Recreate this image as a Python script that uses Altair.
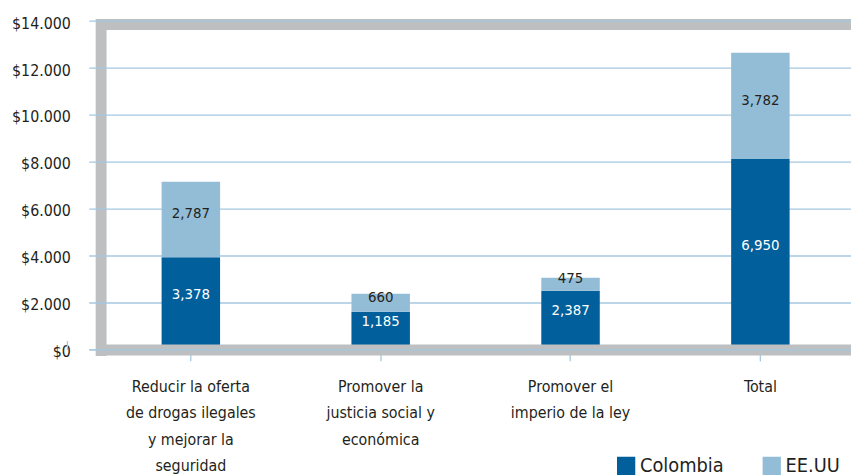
import altair as alt
import pandas as pd

# ---- data ----
categories = [
    "Reducir la oferta|de drogas ilegales|y mejorar la|seguridad",
    "Promover la|justicia social y|económica",
    "Promover el|imperio de la ley",
    "Total",
]
series = ["Colombia", "EE.UU"]
# bar heights as drawn against the axis
colombia_bar = [3950, 1630, 2520, 8130]
eeuu_bar = [3210, 760, 550, 4520]
# printed data labels
colombia_label = ["3,378", "1,185", "2,387", "6,950"]
eeuu_label = ["2,787", "660", "475", "3,782"]
y_ticks = [0, 2000, 4000, 6000, 8000, 10000, 12000, 14000]

# ---- styling ----
C_COL = "#01609c"
C_USA = "#93bdd7"
C_GRID = "#a3c8e0"
C_FRAME = "#bdbfc1"
C_TEXT = "#231f20"
FONT = "DejaVu Sans Condensed, Roboto, sans-serif"
W, H = 762, 332

rows = []
for i, c in enumerate(categories):
    base = 0
    for s, vals, labs in ((series[0], colombia_bar, colombia_label), (series[1], eeuu_bar, eeuu_label)):
        v = vals[i]
        rows.append({"cat": c, "series": s, "start": base, "end": base + v,
                     "mid": base + v / 2, "label": labs[i]})
        base += v
df = pd.DataFrame(rows)
grid_df = pd.DataFrame({"v": y_ticks})
one = alt.Data(values=[{}])

yscale = alt.Scale(domain=[0, 14000], nice=False, zero=True)
yaxis = alt.Axis(values=y_ticks, grid=False, domain=False, ticks=False, tickSize=0,
                 labelPadding=26, labelFontSize=16, labelColor=C_TEXT, labelOffset=2,
                 labelExpr="'$' + (datum.value == 0 ? '0' : (datum.value/1000) + '.000')",
                 title=None)
xscale = alt.Scale(domain=categories, paddingInner=0.692, paddingOuter=0.334, align=0.516)
xaxis = alt.Axis(labelExpr="split(datum.label, '|')", labelAngle=0, domain=False,
                 ticks=True, tickColor=C_GRID, tickSize=11, tickWidth=1.3,
                 labelPadding=18, labelLineHeight=26.5, labelFontSize=16,
                 labelColor=C_TEXT, labelBaseline="top", title=None, grid=False)

X = alt.X("cat:N", scale=xscale, axis=xaxis, sort=categories)

frame_left = alt.Chart(one).mark_rule(color=C_FRAME, strokeWidth=11).encode(
    x=alt.value(5), y=alt.value(-2), y2=alt.value(H + 6))
frame_top = alt.Chart(one).mark_rule(color=C_FRAME, strokeWidth=11).encode(
    x=alt.value(0), x2=alt.value(W), y=alt.value(3.5))

grid = alt.Chart(grid_df).mark_rule(color=C_GRID, strokeWidth=1.3).encode(
    y=alt.Y("v:Q", scale=yscale, axis=yaxis), x=alt.value(-7), x2=alt.value(W))

bars = alt.Chart(df).mark_bar().encode(
    x=X,
    y=alt.Y("start:Q", scale=yscale, axis=yaxis),
    y2="end:Q",
    color=alt.Color("series:N", scale=alt.Scale(domain=series, range=[C_COL, C_USA]),
                    legend=alt.Legend(orient="none", legendX=525, legendY=439,
                                      direction="horizontal", title=None,
                                      symbolType="square", symbolSize=340,
                                      symbolStrokeWidth=0, labelFontSize=20,
                                      labelOffset=4, columnPadding=38,
                                      labelColor=C_TEXT, padding=0)),
)

frame_bottom = alt.Chart(one).mark_rule(color=C_FRAME, strokeWidth=11).encode(
    x=alt.value(0), x2=alt.value(W), y=alt.value(H))
zero_line = alt.Chart(grid_df).transform_filter("datum.v == 0").mark_rule(
    color=C_GRID, strokeWidth=1.3).encode(
    y=alt.Y("v:Q", scale=yscale, axis=yaxis), x=alt.value(-7), x2=alt.value(W))
small_tick = alt.Chart(one).mark_rule(color=C_GRID, strokeWidth=1.3).encode(
    x=alt.value(-29), y=alt.value(H - 9), y2=alt.value(H))

lab_col = alt.Chart(df).transform_filter(alt.datum.series == "Colombia").mark_text(
    color="white", fontSize=15, dy=-10).encode(
    x=X, y=alt.Y("mid:Q", scale=yscale, axis=yaxis), text="label:N")
lab_usa = alt.Chart(df).transform_filter(alt.datum.series == "EE.UU").mark_text(
    color=C_TEXT, fontSize=15, dy=-6).encode(
    x=X, y=alt.Y("mid:Q", scale=yscale, axis=yaxis), text="label:N")

chart = alt.layer(
    frame_left, frame_top, grid, bars, frame_bottom, zero_line, small_tick, lab_col, lab_usa
).properties(
    width=W, height=H,
    autosize=alt.AutoSizeParams(type="none"),
    padding={"left": 89, "top": 11, "right": 0, "bottom": 125},
).configure(font=FONT).configure_view(stroke=None)

chart.save("out.html", embed_options={"renderer": "svg", "actions": False})
